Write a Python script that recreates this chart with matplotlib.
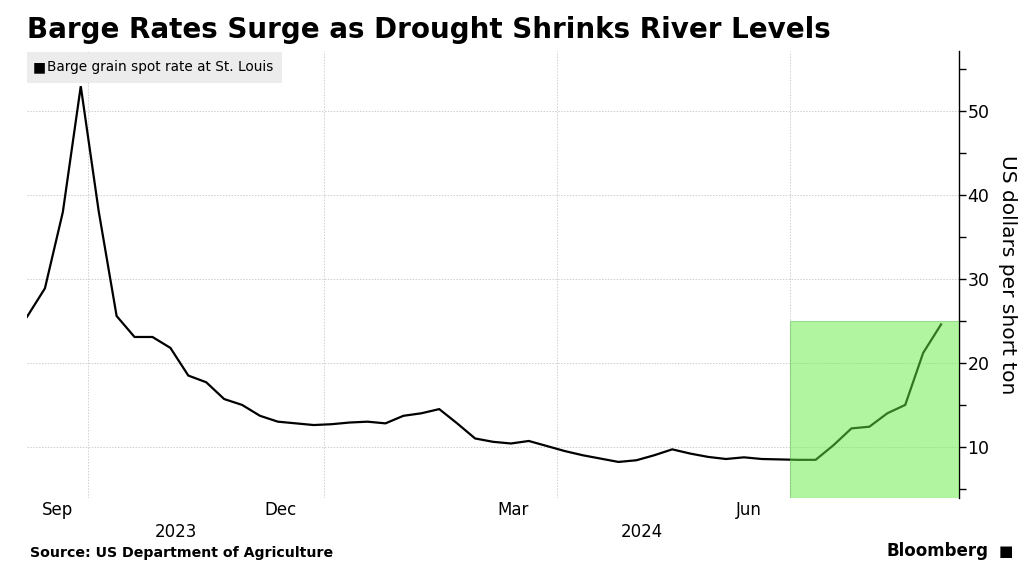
import matplotlib
matplotlib.use("Agg")
import matplotlib.pyplot as plt
import matplotlib.dates as mdates
import numpy as np
import pandas as pd
from matplotlib.patches import Rectangle

# ---- data ----
start_date = "2023-09-07"
rates = [25.5, 28.9, 38.0, 53.0, 38.1, 25.6, 23.1, 23.1, 21.8, 18.5,
         17.7, 15.7, 15.0, 13.7, 13.0, 12.8, 12.6, 12.7, 12.9, 13.0,
         12.8, 13.7, 14.0, 14.5, 12.8, 11.0, 10.6, 10.4, 10.7, 10.1,
         9.5, 9.0, 8.6, 8.2, 8.4, 9.0, 9.7, 9.2, 8.8, 8.55,
         8.75, 8.55, 8.5, 8.45, 8.45, 10.2, 12.2, 12.4, 14.0, 15.0,
         21.2, 24.6]
dates = pd.date_range(start_date, periods=len(rates), freq="7D")
y_ticks = [10, 20, 30, 40, 50]
y_minor = [5, 15, 25, 35, 45, 55]
month_labels = ["Sep", "Dec", "Mar", "Jun"]
month_starts = pd.to_datetime(["2023-09-01", "2023-12-01", "2024-03-01", "2024-06-01"])
grid_dates = pd.to_datetime(["2023-10-01", "2024-01-01", "2024-04-01", "2024-07-01"])
years = ["2023", "2024"]
highlight_start = pd.Timestamp("2024-07-01")
highlight_top = 25
title = "Barge Rates Surge as Drought Shrinks River Levels"
legend_label = "Barge grain spot rate at St. Louis"
ylabel = "US dollars per short ton"
source = "Source: US Department of Agriculture"

x_left = pd.Timestamp("2023-09-07")
x_right = pd.Timestamp("2024-09-05")
y_lo, y_hi = 3.9, 57.2

fig = plt.figure(figsize=(10.34, 5.78), dpi=100)
ax = fig.add_axes([27/1034, 1-498/578, (959-27)/1034, (498-51)/578])

ax.plot(dates, rates, color="black", lw=1.6, zorder=3, solid_joinstyle="miter")

# highlight
hx0 = mdates.date2num(highlight_start)
hx1 = mdates.date2num(x_right)
ax.add_patch(Rectangle((hx0, y_lo), hx1 - hx0, highlight_top - y_lo,
                       facecolor=(0.40, 0.93, 0.27), alpha=0.5,
                       edgecolor=(0.35, 0.75, 0.3), lw=0.8, zorder=4))

ax.set_xlim(mdates.date2num(x_left), mdates.date2num(x_right))
ax.set_ylim(y_lo, y_hi)

# grid
for gd in grid_dates:
    ax.axvline(gd, color="#cfcfcf", lw=0.7, ls=(0, (1.5, 1.5)), zorder=1)
for yt in y_ticks:
    ax.axhline(yt, color="#cfcfcf", lw=0.7, ls=(0, (1.5, 1.5)), zorder=1)

# spines
for s in ["left", "top", "bottom"]:
    ax.spines[s].set_visible(False)
ax.spines["right"].set_color("black")
ax.spines["right"].set_linewidth(1.0)

ax.yaxis.tick_right()
ax.yaxis.set_label_position("right")
ax.set_yticks(y_ticks)
ax.set_yticks(y_minor, minor=True)
ax.tick_params(axis="y", which="major", length=5, width=1, direction="out",
               labelsize=12.5, pad=1, colors="black")
ax.tick_params(axis="y", which="minor", length=5, width=1, direction="out")
ax.set_ylabel(ylabel, rotation=-90, fontsize=14.5, labelpad=6, va="bottom")

# x ticks: month labels at mid-month, clipped to axis start
ax.set_xticks([])
ax.tick_params(axis="x", length=0)
trans = ax.get_xaxis_transform()
for lab, ms in zip(month_labels, month_starts):
    mid = ms + pd.Timedelta(days=14)
    pos = max(mdates.date2num(mid), mdates.date2num(x_left) + 12)
    ax.text(pos, -0.027, lab, transform=trans, ha="center", va="center", fontsize=12)
year_bounds = [(x_left, pd.Timestamp("2024-01-01")), (pd.Timestamp("2024-01-01"), x_right)]
for yl, (a, b) in zip(years, year_bounds):
    c = (mdates.date2num(a) + mdates.date2num(b)) / 2
    ax.text(c, -0.075, yl, transform=trans, ha="center", va="center", fontsize=12)

# legend box
fig.patches.append(Rectangle((27/1034, 1-83/578), (282-27)/1034, 31/578,
                             transform=fig.transFigure, facecolor="#ececec",
                             edgecolor="none", zorder=5))
fig.text(33/1034, 1-67.5/578, "\u25A0", fontsize=10, va="center", ha="left", zorder=6)
fig.text(47/1034, 1-67.5/578, legend_label, fontsize=9.8, va="center", ha="left", zorder=6)

# title & footer
fig.text(27/1034, 1-30/578, title, fontsize=20, fontweight="bold", va="center", ha="left")
fig.text(30/1034, 1-553/578, source, fontsize=10.2, fontweight="bold", va="center", ha="left")
fig.text(988/1034, 1-551/578, "Bloomberg", fontsize=12, fontweight="semibold", va="center", ha="right")
fig.text(1006/1034, 1-551/578, "\u25A0", fontsize=11, va="center", ha="center")

fig.savefig("out.png", dpi=100)
